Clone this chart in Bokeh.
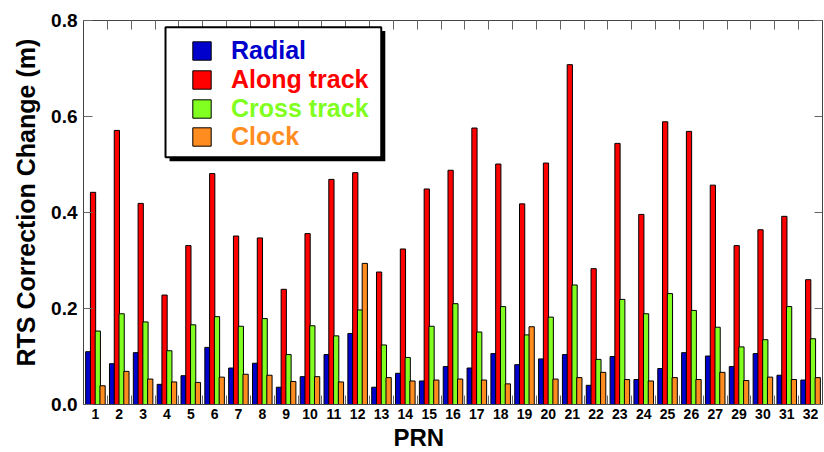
from bokeh.plotting import figure
from bokeh.models import (Range1d, LinearAxis, FixedTicker, Legend, LegendItem,
                          BoxAnnotation, Title, PrintfTickFormatter, ColumnDataSource)
from bokeh.transform import dodge
from bokeh.embed import file_html
from bokeh.resources import INLINE

# ---- data ----
prn = ["1", "2", "3", "4", "5", "6", "7", "8", "9", "10", "11", "12", "13", "14",
       "15", "16", "17", "18", "19", "20", "21", "22", "23", "24", "25", "26", "27",
       "29", "30", "31", "32"]
radial = [0.110, 0.085, 0.108, 0.042, 0.060, 0.119, 0.076, 0.086, 0.036, 0.058, 0.104,
          0.148, 0.036, 0.065, 0.049, 0.079, 0.076, 0.106, 0.083, 0.095, 0.104, 0.040,
          0.100, 0.052, 0.075, 0.108, 0.101, 0.079, 0.106, 0.061, 0.051]
along = [0.442, 0.571, 0.419, 0.228, 0.331, 0.481, 0.351, 0.347, 0.240, 0.356, 0.469,
         0.483, 0.276, 0.324, 0.449, 0.488, 0.576, 0.501, 0.418, 0.503, 0.708, 0.283,
         0.544, 0.396, 0.589, 0.569, 0.457, 0.331, 0.364, 0.392, 0.260]
cross = [0.153, 0.189, 0.172, 0.112, 0.166, 0.183, 0.163, 0.179, 0.104, 0.164, 0.143,
         0.197, 0.124, 0.098, 0.163, 0.210, 0.151, 0.204, 0.145, 0.182, 0.249, 0.094,
         0.219, 0.189, 0.231, 0.196, 0.161, 0.120, 0.135, 0.204, 0.137]
clock = [0.039, 0.069, 0.053, 0.047, 0.046, 0.057, 0.063, 0.061, 0.048, 0.058, 0.047,
         0.294, 0.056, 0.049, 0.051, 0.053, 0.051, 0.043, 0.162, 0.053, 0.056, 0.067,
         0.052, 0.049, 0.056, 0.052, 0.067, 0.050, 0.057, 0.052, 0.056]
series_names = ["Radial", "Along track", "Cross track", "Clock"]
y_ticks = [0.0, 0.2, 0.4, 0.6, 0.8]

colors = ["#0000CC", "#FF0000", "#80FF20", "#FF8C1E"]
FONT = "Liberation Sans"

n = len(prn)
xs = list(range(1, n + 1))
src = ColumnDataSource(dict(x=xs, radial=radial, along=along, cross=cross, clock=clock))

p = figure(width=824, height=452, x_range=Range1d(0.5, n + 0.5), y_range=Range1d(0, 0.8),
           output_backend="svg", toolbar_location=None,
           x_axis_location=None, y_axis_location=None,
           min_border_left=83, min_border_right=2, min_border_top=20, min_border_bottom=48)
p.grid.visible = False
p.outline_line_color = None
p.background_fill_color = "white"

# ---- bars ----
offsets = [-0.3, -0.1, 0.1, 0.3]
fields = ["radial", "along", "cross", "clock"]
renderers = []
for f, off, c in zip(fields, offsets, colors):
    r = p.vbar(x=dodge("x", off), top=f, width=0.22, bottom=0, source=src,
               fill_color=c, line_color="black", line_width=1)
    renderers.append(r)

# ---- axes ----
bounds = [i + 0.5 for i in range(n + 1)]
AX = "#444444"
TK = "#666666"

xb = LinearAxis(ticker=FixedTicker(ticks=xs, minor_ticks=bounds),
                major_label_overrides={i: s for i, s in zip(xs, prn)},
                major_tick_in=0, major_tick_out=0,
                minor_tick_in=9, minor_tick_out=0, minor_tick_line_color=TK,
                axis_line_color=AX, major_label_standoff=4,
                major_label_text_font=FONT, major_label_text_font_style="bold",
                major_label_text_font_size="14px", major_label_text_color="black")
p.add_layout(xb, "below")

xt = LinearAxis(ticker=FixedTicker(ticks=[], minor_ticks=bounds),
                major_tick_in=0, major_tick_out=0,
                minor_tick_in=9, minor_tick_out=0, minor_tick_line_color=TK,
                axis_line_color=AX, major_label_standoff=0)
p.add_layout(xt, "above")

yl = LinearAxis(ticker=FixedTicker(ticks=y_ticks), formatter=PrintfTickFormatter(format="%.1f"),
                major_tick_in=9, major_tick_out=0, minor_tick_in=0, minor_tick_out=0,
                major_tick_line_color=TK, axis_line_color=AX, major_label_standoff=6,
                major_label_text_font=FONT, major_label_text_font_style="bold",
                major_label_text_font_size="19px", major_label_text_color="black")
p.add_layout(yl, "left")

yr = LinearAxis(ticker=FixedTicker(ticks=[], minor_ticks=y_ticks),
                major_tick_in=0, major_tick_out=0,
                minor_tick_in=8, minor_tick_out=0, minor_tick_line_color=TK,
                axis_line_color=AX, major_label_standoff=0)
p.add_layout(yr, "right")

# ---- axis titles (placed as in the reference, slightly off centre) ----
p.add_layout(Title(text="RTS Correction Change (m)", align="left", offset=38, standoff=14,
                   vertical_align="top",
                   text_font=FONT, text_font_style="bold", text_font_size="25px",
                   text_color="black"), "left")
p.add_layout(Title(text="PRN", align="left", offset=310, standoff=0,
                   text_font=FONT, text_font_style="bold", text_font_size="24px",
                   text_color="black"), "below")

# ---- legend box with shadow ----
p.add_layout(BoxAnnotation(left=4.11, right=13.16, top=0.778, bottom=0.507,
                           fill_color="black", fill_alpha=1, line_alpha=0))
p.add_layout(BoxAnnotation(left=3.94, right=12.99, top=0.786, bottom=0.515,
                           fill_color="white", fill_alpha=1, line_color="black",
                           line_width=2, line_alpha=1))

square_tops = [37.3, 66.0, 94.7, 123.4]
for name, r, c, st in zip(series_names, renderers, colors, square_tops):
    lg = Legend(items=[LegendItem(label=name, renderers=[r])],
                location=(107, 404 - st - 28), padding=0, margin=0, spacing=0,
                glyph_width=23, glyph_height=23, label_height=23, label_standoff=18,
                label_text_font=FONT, label_text_font_style="bold",
                label_text_font_size="25px", label_text_color=c,
                border_line_alpha=0, background_fill_alpha=0)
    p.add_layout(lg, "center")

open("out.html", "w").write(file_html(p, INLINE))
